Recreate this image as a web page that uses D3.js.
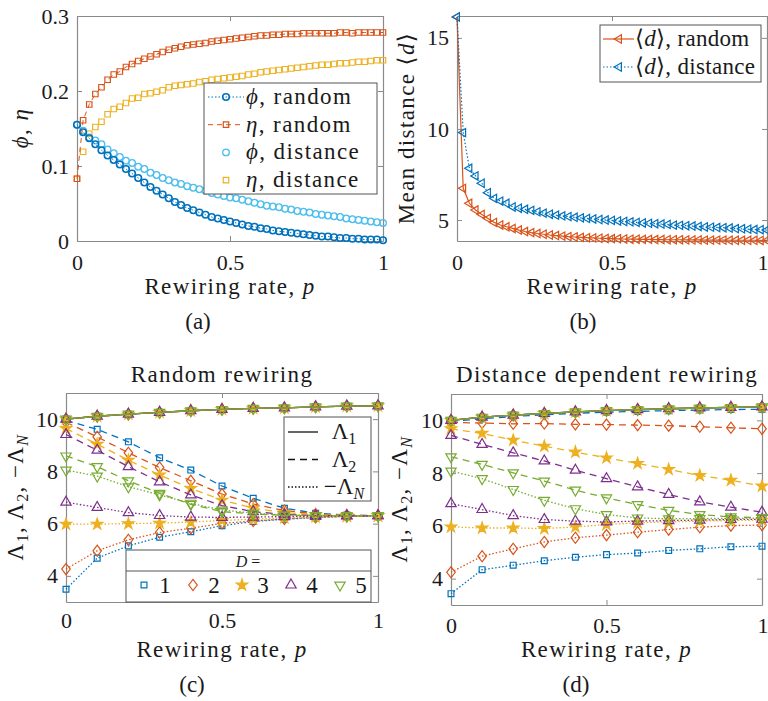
<!DOCTYPE html>
<html>
<head>
<meta charset="utf-8">
<script src="https://cdn.jsdelivr.net/npm/d3@7"></script>
<style>
  body { margin: 0; background: #fff; }
  text { font-family: "Liberation Serif", "DejaVu Serif", serif; fill: #1a1a1a; }
  .lbl { letter-spacing: 1.4px; }
</style>
</head>
<body>
<script>
// ---- data ----
const pFine = [0,0.02,0.04,0.06,0.08,0.1,0.12,0.14,0.16,0.18,0.2,0.22,0.24,0.26,0.28,0.3,0.32,0.34,0.36,0.38,0.4,
  0.42,0.44,0.46,0.48,0.5,0.52,0.54,0.56,0.58,0.6,0.62,0.64,0.66,0.68,0.7,0.72,0.74,0.76,0.78,0.8,
  0.82,0.84,0.86,0.88,0.9,0.92,0.94,0.96,0.98,1];
const pCoarse = [0,0.1,0.2,0.3,0.4,0.5,0.6,0.7,0.8,0.9,1];

// (a) phi / eta
const phiRandom = [0.155,0.145,0.137,0.129,0.121,0.114,0.108,0.102,0.096,0.090,0.084,0.078,0.072,0.067,0.062,0.057,0.052,
  0.048,0.044,0.041,0.038,0.035,0.032,0.030,0.028,0.026,0.024,0.022,0.020,0.019,0.017,0.016,0.014,0.013,0.012,0.011,
  0.010,0.009,0.008,0.007,0.006,0.006,0.005,0.004,0.004,0.003,0.003,0.002,0.002,0.002,0.001];
const etaRandom = [0.083,0.161,0.182,0.196,0.205,0.215,0.222,0.226,0.232,0.236,0.240,0.243,0.246,0.249,0.252,0.255,0.257,
  0.259,0.261,0.262,0.263,0.264,0.266,0.267,0.268,0.269,0.270,0.271,0.272,0.273,0.274,0.274,0.275,0.275,0.276,0.276,
  0.276,0.277,0.277,0.277,0.277,0.277,0.277,0.278,0.278,0.277,0.278,0.278,0.278,0.278,0.278];
const phiDistance = [0.155,0.147,0.138,0.134,0.129,0.122,0.117,0.112,0.107,0.104,0.099,0.096,0.091,0.088,0.084,0.081,0.078,
  0.076,0.073,0.071,0.069,0.067,0.064,0.062,0.060,0.058,0.057,0.055,0.053,0.051,0.049,0.047,0.046,0.045,0.043,0.042,
  0.040,0.039,0.038,0.036,0.035,0.034,0.033,0.032,0.030,0.029,0.028,0.027,0.026,0.025,0.024];
const etaDistance = [0.083,0.119,0.143,0.152,0.159,0.169,0.176,0.179,0.184,0.190,0.191,0.196,0.197,0.199,0.201,0.205,0.207,
  0.208,0.209,0.210,0.212,0.213,0.215,0.216,0.217,0.218,0.219,0.220,0.222,0.223,0.225,0.226,0.227,0.228,0.229,0.230,
  0.231,0.232,0.233,0.234,0.235,0.235,0.236,0.237,0.237,0.238,0.239,0.239,0.240,0.241,0.241];

// (b) mean distance
const dRandom = [16.15,6.74,5.92,5.55,5.31,5.09,4.87,4.73,4.63,4.54,4.45,4.37,4.31,4.26,4.22,4.18,4.15,4.12,4.09,4.07,
  4.05,4.03,4.02,4.00,3.99,3.98,3.97,3.96,3.95,3.95,3.94,3.94,3.93,3.93,3.92,3.92,3.92,3.91,3.91,3.91,3.90,3.90,3.90,
  3.90,3.89,3.89,3.89,3.89,3.89,3.88,3.88];
const dDistance = [16.15,9.80,7.84,7.42,7.02,6.50,6.19,6.04,5.92,5.72,5.65,5.59,5.53,5.45,5.38,5.32,5.27,5.23,5.19,5.15,
  5.12,5.09,5.06,5.03,5.00,4.98,4.95,4.92,4.90,4.87,4.84,4.82,4.80,4.78,4.76,4.72,4.71,4.69,4.67,4.65,4.62,4.61,4.59,
  4.58,4.56,4.53,4.52,4.50,4.48,4.47,4.45];

// (c) random rewiring, one row per D = 1..5
const Dvalues = [1,2,3,4,5];
const randLambda1 = [10.00,10.11,10.19,10.26,10.32,10.37,10.41,10.43,10.47,10.50,10.51];
const randLambda2 = [
  [9.95,9.61,9.13,8.52,8.05,7.44,6.97,6.59,6.40,6.33,6.30],
  [9.88,9.32,8.71,8.15,7.64,7.13,6.75,6.50,6.37,6.32,6.30],
  [9.64,9.04,8.43,7.86,7.35,6.90,6.59,6.42,6.34,6.31,6.30],
  [9.41,8.81,8.18,7.60,7.10,6.69,6.46,6.35,6.31,6.30,6.30],
  [8.59,8.18,7.64,7.16,6.74,6.46,6.37,6.32,6.30,6.30,6.30]];
const randLambdaN = [
  [3.49,4.68,5.15,5.48,5.69,5.92,6.08,6.17,6.23,6.28,6.30],
  [4.26,4.96,5.38,5.66,5.82,6.01,6.10,6.18,6.24,6.28,6.30],
  [5.98,5.98,6.00,6.02,6.06,6.12,6.17,6.22,6.26,6.28,6.30],
  [6.82,6.62,6.42,6.31,6.25,6.24,6.25,6.27,6.28,6.29,6.30],
  [8.05,7.82,7.41,7.10,6.78,6.52,6.40,6.33,6.31,6.30,6.30]];

// (d) distance dependent rewiring
const distLambda1 = [10.00,10.12,10.20,10.26,10.32,10.37,10.41,10.44,10.47,10.49,10.51];
const distLambda2 = [
  [9.96,10.06,10.15,10.21,10.27,10.31,10.34,10.37,10.39,10.41,10.42],
  [9.92,9.90,9.87,9.88,9.85,9.84,9.82,9.80,9.76,9.72,9.68],
  [9.68,9.51,9.25,9.02,8.80,8.58,8.37,8.14,7.91,7.73,7.51],
  [9.43,9.09,8.77,8.46,8.11,7.79,7.48,7.19,6.91,6.71,6.52],
  [8.62,8.33,8.01,7.70,7.36,7.06,6.81,6.59,6.43,6.34,6.31]];
const distLambdaN = [
  [3.43,4.34,4.51,4.68,4.81,4.91,4.97,5.07,5.13,5.21,5.23],
  [4.24,4.85,5.13,5.39,5.55,5.65,5.76,5.86,5.95,6.01,6.03],
  [5.96,5.92,5.92,5.90,5.96,6.05,6.12,6.15,6.18,6.20,6.22],
  [6.84,6.62,6.39,6.24,6.18,6.15,6.18,6.20,6.22,6.24,6.25],
  [8.08,7.79,7.38,6.97,6.65,6.43,6.30,6.27,6.28,6.28,6.30]];

// ---- styles ----
const colors = ["#0072BD","#D95319","#EDB120","#7E2F8E","#77AC30"];
const lightBlue = "#4DBEEE";
const FS = 23;
const dashStyle = "7,5", dotStyle = "1.5,2";

const symDiamond = {
  draw(ctx, size) {
    const s = Math.sqrt(size), w = s*0.55, h = s*0.72;
    ctx.moveTo(0,-h); ctx.lineTo(w,0); ctx.lineTo(0,h); ctx.lineTo(-w,0); ctx.closePath();
  }
};
const markerDefs = [
  {type: d3.symbolSquare, size: 34, rot: 0, fill: false},
  {type: symDiamond, size: 60, rot: 0, fill: false},
  {type: d3.symbolStar, size: 40, rot: 0, fill: true},
  {type: d3.symbolTriangle, size: 46, rot: 0, fill: false},
  {type: d3.symbolTriangle, size: 46, rot: 180, fill: false}
];

const svg = d3.select("body").append("svg").attr("width", 768).attr("height", 701);

function makePanel(o) {
  const x = d3.scaleLinear().domain([0,1]).range([o.left, o.right]);
  const y = d3.scaleLinear().domain(o.yDomain).range([o.bottom, o.top]);
  const g = svg.append("g");
  const axisCol = "#8a8a8a";
  const tk = 5;
  const fmt = d3.format("~g");

  const ax = [
    g.append("g").attr("transform", `translate(0,${o.bottom})`)
      .call(d3.axisBottom(x).tickValues([0,0.5,1]).tickFormat(fmt).tickSizeInner(-tk).tickSizeOuter(0).tickPadding(o.xPad)),
    g.append("g").attr("transform", `translate(0,${o.top})`)
      .call(d3.axisTop(x).tickValues([0,0.5,1]).tickFormat("").tickSizeInner(-tk).tickSizeOuter(0)),
    g.append("g").attr("transform", `translate(${o.left},0)`)
      .call(d3.axisLeft(y).tickValues(o.yTicks).tickFormat(fmt).tickSizeInner(-tk).tickSizeOuter(0).tickPadding(8)),
    g.append("g").attr("transform", `translate(${o.right},0)`)
      .call(d3.axisRight(y).tickValues(o.yTicks).tickFormat("").tickSizeInner(-tk).tickSizeOuter(0))
  ];
  ax.forEach(a => {
    a.selectAll("path.domain").attr("stroke", axisCol).attr("stroke-width", 1.2);
    a.selectAll(".tick line").attr("stroke", axisCol);
    a.selectAll(".tick text").attr("font-size", 22).attr("fill", "#1a1a1a");
  });
  // keep the last x tick label inside the page when the axes touch the right edge
  if (o.right > 760) ax[0].selectAll(".tick:last-of-type text").attr("text-anchor", "end").attr("x", 768 - o.right);

  // x label
  const xl = g.append("text").attr("class", "lbl").attr("x", (o.left+o.right)/2).attr("y", o.xLabelY)
    .attr("text-anchor", "middle").attr("font-size", FS);
  xl.append("tspan").text("Rewiring rate, ");
  xl.append("tspan").attr("font-style", "italic").text("p");

  // caption
  g.append("text").attr("x", o.capX).attr("y", o.capY).attr("text-anchor", "middle")
    .attr("font-size", FS).text(o.caption);

  const plot = g.append("g");
  return {g, plot, x, y};
}

function yLabel(panel, px, py, parts) {
  const t = panel.g.append("text").attr("class", "lbl").attr("transform", `translate(${px},${py}) rotate(-90)`)
    .attr("text-anchor", "middle").attr("font-size", FS);
  parts.forEach(p => {
    const s = t.append("tspan").text(p.t);
    if (p.i) s.attr("font-style", "italic");
    if (p.sub) s.attr("font-size", 16).attr("dy", 5);
    if (p.up) s.attr("dy", -5);
  });
}

function lambdaParts() {
  return [{t:"Λ"},{t:"1",sub:1},{t:", Λ",up:1},{t:"2",sub:1},{t:", −Λ",up:1},{t:"N",sub:1,i:1}];
}

function drawLine(panel, xs, ys, color, dash, width) {
  const line = d3.line().x((d,i) => panel.x(xs[i])).y(d => panel.y(d));
  panel.plot.append("path").datum(ys).attr("d", line)
    .attr("fill", "none").attr("stroke", color).attr("stroke-width", width || 1.2)
    .attr("stroke-dasharray", dash);
}

function drawMarkers(panel, xs, ys, color, m, sw) {
  const sym = d3.symbol().type(m.type).size(m.size);
  panel.plot.append("g").selectAll("path").data(ys).join("path")
    .attr("transform", (d,i) => `translate(${panel.x(xs[i])},${panel.y(d)}) rotate(${m.rot||0})`)
    .attr("d", sym)
    .attr("fill", m.fill ? color : "none")
    .attr("stroke", color).attr("stroke-width", sw || 1.2);
}

// ===== (a) =====
const A = makePanel({left:77, right:383, top:16, bottom:241, yDomain:[0,0.3], yTicks:[0,0.1,0.2,0.3],
  xPad:13, xLabelY:294, capX:198, capY:329, caption:"(a)"});
yLabel(A, 28, 128, [{t:"ϕ", i:1},{t:", "},{t:"η", i:1}]);
const circleM = {type: d3.symbolCircle, size: 34};
const squareM = {type: d3.symbolSquare, size: 30};
drawMarkers(A, pFine, phiDistance, lightBlue, circleM, 1.3);
drawMarkers(A, pFine, etaDistance, colors[2], squareM, 1.2);
drawLine(A, pFine, phiRandom, colors[0], dotStyle, 1);
drawMarkers(A, pFine, phiRandom, colors[0], circleM, 1.6);
drawLine(A, pFine, etaRandom, colors[1], "5,4", 1);
drawMarkers(A, pFine, etaRandom, colors[1], squareM, 1.2);

// legend (a)
{
  const lg = A.g.append("g");
  lg.append("rect").attr("x", 204).attr("y", 83).attr("width", 173).attr("height", 111)
    .attr("fill", "#fff").attr("stroke", "#555").attr("stroke-width", 1);
  const rows = [
    {sym:"ϕ", lab:", random", c:colors[0], m:circleM, dash:dotStyle, sw:1.6},
    {sym:"η", lab:", random", c:colors[1], m:squareM, dash:"5,4", sw:1.2},
    {sym:"ϕ", lab:", distance", c:lightBlue, m:circleM, dash:null, sw:1.3},
    {sym:"η", lab:", distance", c:colors[2], m:squareM, dash:null, sw:1.2}
  ];
  rows.forEach((r,i) => {
    const cy = 97 + i*27.7;
    if (r.dash) lg.append("line").attr("x1", 208).attr("x2", 244).attr("y1", cy).attr("y2", cy)
      .attr("stroke", r.c).attr("stroke-width", 1).attr("stroke-dasharray", r.dash);
    lg.append("path").attr("transform", `translate(226,${cy})`).attr("d", d3.symbol().type(r.m.type).size(r.m.size))
      .attr("fill", "none").attr("stroke", r.c).attr("stroke-width", r.sw);
    const t = lg.append("text").attr("class", "lbl").attr("x", 246).attr("y", cy+7).attr("font-size", FS);
    t.append("tspan").attr("font-style", "italic").text(r.sym);
    t.append("tspan").text(r.lab);
  });
}

// ===== (b) =====
const B = makePanel({left:457, right:767, top:16, bottom:241, yDomain:[3.85,16.2], yTicks:[5,10,15],
  xPad:13, xLabelY:294, capX:583, capY:329, caption:"(b)"});
yLabel(B, 414, 128, [{t:"Mean distance ⟨"},{t:"d", i:1},{t:"⟩"}]);
const leftTri = {type: d3.symbolTriangle, size: 30, rot: -90};
drawLine(B, pFine, dRandom, colors[1], null, 1.2);
drawMarkers(B, pFine, dRandom, colors[1], leftTri, 1.2);
drawLine(B, pFine, dDistance, colors[0], dotStyle, 1.2);
drawMarkers(B, pFine, dDistance, colors[0], leftTri, 1.2);
{
  const lg = B.g.append("g");
  lg.append("rect").attr("x", 600).attr("y", 25).attr("width", 161).attr("height", 57)
    .attr("fill", "#fff").attr("stroke", "#555").attr("stroke-width", 1);
  const rows = [
    {lab:", random", c:colors[1], dash:null},
    {lab:", distance", c:colors[0], dash:dotStyle}
  ];
  rows.forEach((r,i) => {
    const cy = 39 + i*28;
    lg.append("line").attr("x1", 603).attr("x2", 634).attr("y1", cy).attr("y2", cy)
      .attr("stroke", r.c).attr("stroke-width", 1.2).attr("stroke-dasharray", r.dash);
    lg.append("path").attr("transform", `translate(619,${cy}) rotate(-90)`).attr("d", d3.symbol().type(d3.symbolTriangle).size(30))
      .attr("fill", "none").attr("stroke", r.c).attr("stroke-width", 1.2);
    const t = lg.append("text").attr("x", 635).attr("y", cy+7).attr("font-size", FS).style("letter-spacing", "0.3px");
    t.append("tspan").text("⟨");
    t.append("tspan").attr("font-style", "italic").text("d");
    t.append("tspan").text("⟩" + r.lab);
  });
}

// ===== (c) and (d) =====
function eigenPanel(P, L1, L2, LN) {
  Dvalues.forEach((D, k) => {
    const c = colors[k], m = markerDefs[k];
    drawLine(P, pCoarse, L1, c, null, 1.3);
    drawMarkers(P, pCoarse, L1, c, m, 1.2);
    drawLine(P, pCoarse, L2[k], c, dashStyle, 1.3);
    drawMarkers(P, pCoarse, L2[k], c, m, 1.2);
    drawLine(P, pCoarse, LN[k], c, dotStyle, 1.3);
    drawMarkers(P, pCoarse, LN[k], c, m, 1.2);
  });
}

const C = makePanel({left:66, right:378, top:393, bottom:602, yDomain:[3,11], yTicks:[4,6,8,10],
  xPad:10, xLabelY:657, capX:192, capY:692, caption:"(c)"});
C.g.append("text").attr("class", "lbl").attr("x", 222).attr("y", 382).attr("text-anchor", "middle").attr("font-size", FS).text("Random rewiring");
yLabel(C, 23, 497, lambdaParts());
eigenPanel(C, randLambda1, randLambda2, randLambdaN);

// legend: line styles
{
  const lg = C.g.append("g");
  lg.append("rect").attr("x", 284).attr("y", 417).attr("width", 87).attr("height", 84)
    .attr("fill", "#fff").attr("stroke", "#555").attr("stroke-width", 1);
  const rows = [
    {dash:null, parts:[{t:"Λ"},{t:"1",sub:1}]},
    {dash:dashStyle, parts:[{t:"Λ"},{t:"2",sub:1}]},
    {dash:dotStyle, parts:[{t:"−Λ"},{t:"N",sub:1,i:1}]}
  ];
  rows.forEach((r,i) => {
    const cy = 432 + i*27.5;
    lg.append("line").attr("x1", 288).attr("x2", 318).attr("y1", cy).attr("y2", cy)
      .attr("stroke", "#111").attr("stroke-width", 1.3).attr("stroke-dasharray", r.dash);
    const t = lg.append("text").attr("x", 344).attr("y", cy+7).attr("text-anchor", "middle").attr("font-size", FS);
    r.parts.forEach(p => {
      const s = t.append("tspan").text(p.t);
      if (p.sub) s.attr("font-size", 16).attr("dy", 5);
      if (p.i) s.attr("font-style", "italic");
    });
  });
}
// legend: D markers
{
  const lg = C.g.append("g");
  lg.append("rect").attr("x", 126).attr("y", 550).attr("width", 245).attr("height", 52)
    .attr("fill", "#fff").attr("stroke", "#555").attr("stroke-width", 1);
  lg.append("line").attr("x1", 126).attr("x2", 371).attr("y1", 571).attr("y2", 571)
    .attr("stroke", "#555").attr("stroke-width", 1);
  const h = lg.append("text").attr("x", 248).attr("y", 567).attr("text-anchor", "middle").attr("font-size", 16);
  h.append("tspan").attr("font-style", "italic").text("D");
  h.append("tspan").text(" =");
  Dvalues.forEach((D, k) => {
    const mx = 144 + k*49;
    lg.append("path").attr("transform", `translate(${mx},585) rotate(${markerDefs[k].rot})`)
      .attr("d", d3.symbol().type(markerDefs[k].type).size(markerDefs[k].size))
      .attr("fill", markerDefs[k].fill ? colors[k] : "none").attr("stroke", colors[k]).attr("stroke-width", 1.2);
    lg.append("text").attr("x", mx + 21).attr("y", 593).attr("text-anchor", "middle").attr("font-size", FS).text(D);
  });
}

const Dp = makePanel({left:451, right:762, top:394, bottom:605, yDomain:[3,11], yTicks:[4,6,8,10],
  xPad:12, xLabelY:657, capX:576, capY:692, caption:"(d)"});
Dp.g.append("text").attr("class", "lbl").attr("x", 607).attr("y", 382).attr("text-anchor", "middle").attr("font-size", FS).text("Distance dependent rewiring");
yLabel(Dp, 407, 499, lambdaParts());
eigenPanel(Dp, distLambda1, distLambda2, distLambdaN);
</script>
</body>
</html>
